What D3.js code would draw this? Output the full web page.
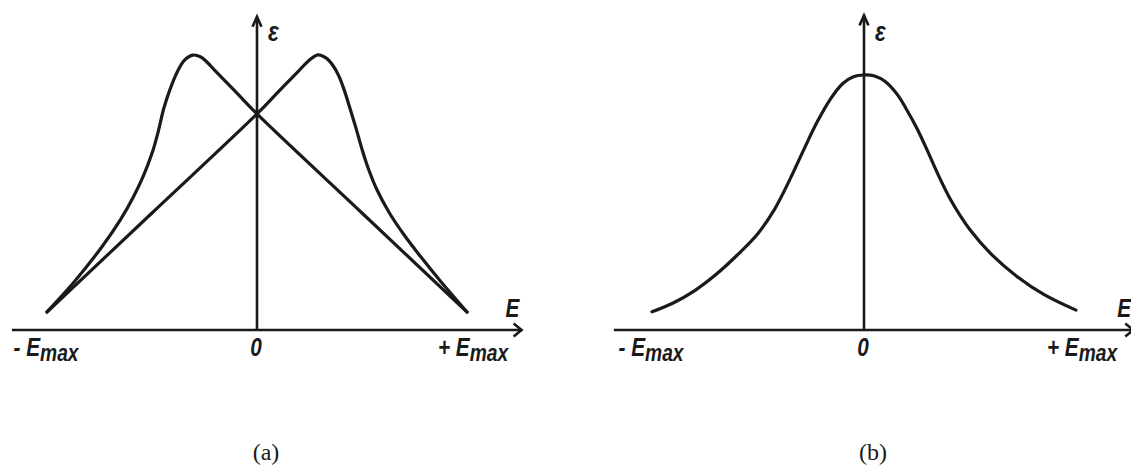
<!DOCTYPE html>
<html>
<head>
<meta charset="utf-8">
<script src="https://cdn.jsdelivr.net/npm/d3@7"></script>
<style>
  body { margin: 0; background: #fff; }
  .lbl { font-family: "Liberation Sans", "DejaVu Sans", sans-serif; font-weight: bold; font-style: italic; fill: #1a1a1a; }
  .cap { font-family: "Liberation Serif", "Times New Roman", serif; font-size: 24px; fill: #1a1a1a; }
</style>
</head>
<body>
<div id="chart"></div>
<script>
// Data: x in units of E/Emax, y in relative units of epsilon
// (a) curve with its peak on the right, straight on the left
var curveA = [[-1, 0.065], [-0.5, 0.424], [0, 0.783], [0.1, 0.862], [0.2, 0.94], [0.245, 0.975],
  [0.29, 0.997], [0.33, 0.985], [0.36, 0.96], [0.39, 0.92], [0.415, 0.87], [0.44, 0.81], [0.47, 0.735],
  [0.5, 0.655], [0.53, 0.585], [0.57, 0.51], [0.63, 0.425], [0.7, 0.345], [0.78, 0.265], [0.87, 0.18],
  [1, 0.065]];

// (a) curve with its peak on the left, straight on the right
var curveB = [[-1, 0.066], [-0.87, 0.175], [-0.74, 0.3], [-0.65, 0.4], [-0.59, 0.48], [-0.54, 0.56],
  [-0.5, 0.64], [-0.47, 0.72], [-0.445, 0.8], [-0.415, 0.87], [-0.38, 0.935], [-0.345, 0.978],
  [-0.305, 0.996], [-0.27, 0.99], [-0.24, 0.972], [-0.2, 0.94], [-0.1, 0.862], [0, 0.783],
  [0.5, 0.424], [1, 0.065]];

// (b) bell curve
var curveBell = [[-1, 0.066], [-0.9, 0.098], [-0.8, 0.142], [-0.7, 0.2], [-0.6, 0.27], [-0.5, 0.35],
  [-0.42, 0.44], [-0.35, 0.545], [-0.28, 0.66], [-0.22, 0.755], [-0.16, 0.835], [-0.1, 0.893],
  [-0.05, 0.918], [0, 0.924], [0.05, 0.92], [0.1, 0.9], [0.16, 0.85], [0.2, 0.8], [0.25, 0.73],
  [0.3, 0.648], [0.35, 0.562], [0.41, 0.47], [0.5, 0.363], [0.6, 0.275], [0.72, 0.195],
  [0.85, 0.128], [1, 0.072]];

var tickValues = [-1, 0, 1];
var tickLabels = ["- E", "0", "+ E"];
var tickSubs = ["max", "", "max"];
var captions = ["(a)", "(b)"];

// SVG wrapper width and height
var svgWidth = 1131;
var svgHeight = 467;
var baseY = 330;
var ink = "#1a1a1a";
var squeeze = 0.8; // the labels use a narrow face

// one entry per panel: where the origin sits and how far the axes reach
var panels = [
  { center: 257, half: 210, xMin: -1.167, xMax: 1.26, yMax: 1.135, curves: [curveA, curveB], caption: captions[0] },
  { center: 864, half: 212, xMin: -1.18, xMax: 1.27, yMax: 1.14, curves: [curveBell], caption: captions[1] }
];

var svg = d3.select("#chart")
  .append("svg")
  .attr("width", svgWidth)
  .attr("height", svgHeight);

var yScale = d3.scaleLinear()
  .domain([0, 1])
  .range([baseY, 54]);

// narrow bold italic label
function addLabel(parent, x, y, size, anchor) {
  return parent.append("g")
    .attr("transform", `translate(${x},${y}) scale(${squeeze},1)`)
    .append("text")
    .attr("class", "lbl")
    .attr("text-anchor", anchor)
    .style("font-size", size + "px");
}

panels.forEach(function(p) {
  var xScale = d3.scaleLinear()
    .domain([-1, 1])
    .range([p.center - p.half, p.center + p.half]);

  var g = svg.append("g");

  // x axis with open arrow
  var xEnd = xScale(p.xMax);
  g.append("line")
    .attr("x1", xScale(p.xMin)).attr("x2", xEnd)
    .attr("y1", yScale(0)).attr("y2", yScale(0))
    .attr("stroke", ink).attr("stroke-width", 2.6);
  g.append("path")
    .attr("d", `M${xEnd - 8},${yScale(0) - 6.5}L${xEnd},${yScale(0)}L${xEnd - 8},${yScale(0) + 6.5}`)
    .attr("fill", "none").attr("stroke", ink).attr("stroke-width", 2.6);

  // y axis with arrow
  var yEnd = yScale(p.yMax);
  g.append("line")
    .attr("x1", xScale(0)).attr("x2", xScale(0))
    .attr("y1", yScale(0)).attr("y2", yEnd)
    .attr("stroke", ink).attr("stroke-width", 2.6);
  g.append("path")
    .attr("d", `M${xScale(0) - 4.5},${yEnd + 10}L${xScale(0)},${yEnd}L${xScale(0) + 4.5},${yEnd + 10}`)
    .attr("fill", "none").attr("stroke", ink).attr("stroke-width", 2.6);

  // curves
  var line = d3.line()
    .x(d => xScale(d[0]))
    .y(d => yScale(d[1]))
    .curve(d3.curveCatmullRom.alpha(0.5));

  g.selectAll("path.curve")
    .data(p.curves)
    .enter()
    .append("path")
    .attr("class", "curve")
    .attr("d", line)
    .attr("fill", "none")
    .attr("stroke", ink)
    .attr("stroke-width", 3.2)
    .attr("stroke-linejoin", "round")
    .attr("stroke-linecap", "round");

  // tick labels under the x axis
  var offsets = [-1, -1, 6];
  tickValues.forEach(function(v, i) {
    var t = addLabel(g, xScale(v) + offsets[i], 356, 26, "middle")
      .text(tickLabels[i]);
    t.append("tspan")
      .attr("dy", 5)
      .style("font-size", "24px")
      .text(tickSubs[i]);
  });

  // axis names
  addLabel(g, xScale(0) + 11, 41, 28, "start").text("ε");
  addLabel(g, xEnd - 16, 317, 26, "start").text("E");

  // panel caption
  g.append("text")
    .attr("class", "cap")
    .attr("x", xScale(0) + 9)
    .attr("y", 460)
    .attr("text-anchor", "middle")
    .text(p.caption);
});
</script>
</body>
</html>
